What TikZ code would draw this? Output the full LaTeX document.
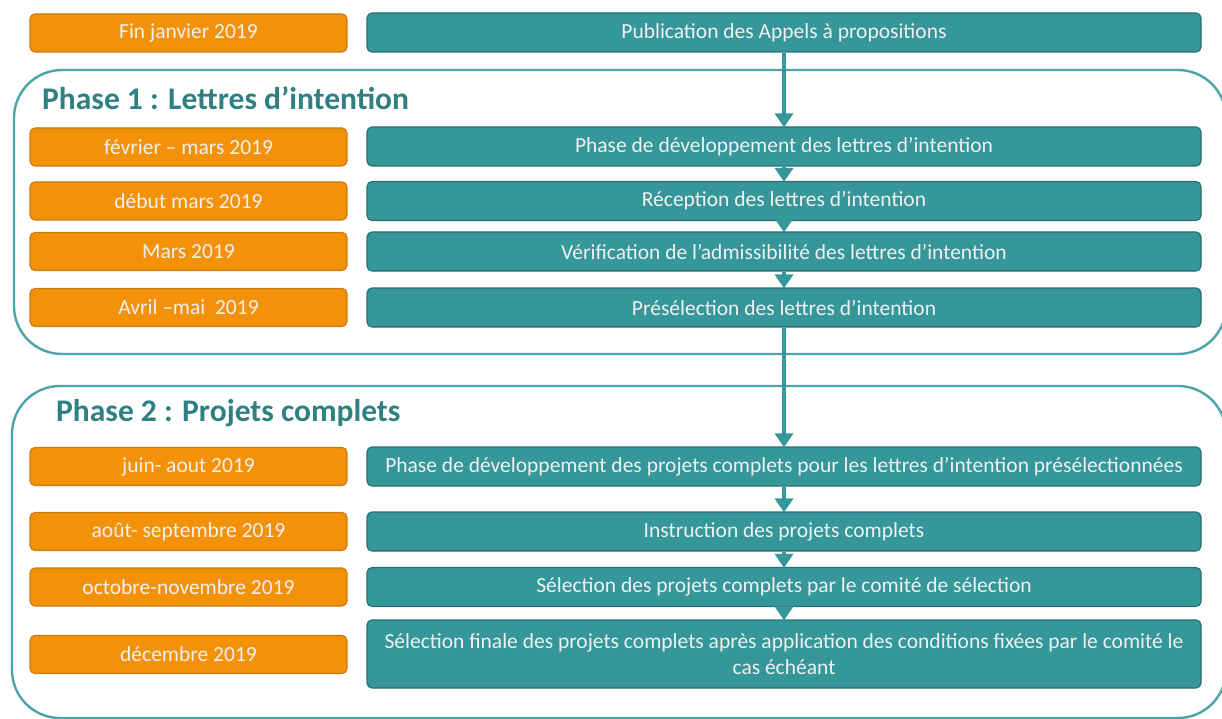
\documentclass[tikz,border=0pt]{standalone}
\usepackage{fontspec}
\setmainfont{Carlito}
\usetikzlibrary{arrows.meta}
\definecolor{datefill}{HTML}{F39208}
\definecolor{dateline}{HTML}{C97A14}
\definecolor{stepfill}{HTML}{35979A}
\definecolor{stepline}{HTML}{2A6E70}
\definecolor{phasetext}{HTML}{2F8082}
\definecolor{phaseline}{HTML}{4BA5A7}
\begin{document}
\begin{tikzpicture}
[x=1pt,y=-1pt,
datebox/.style={rectangle,rounded corners=5pt,draw=dateline,line width=1.2pt,fill=datefill,text=white!94!black,minimum width=317pt,minimum height=38pt,inner sep=2pt,font=\fontsize{21.5}{24}\selectfont},
stepbox/.style={rectangle,rounded corners=5pt,draw=stepline,line width=1.2pt,fill=stepfill,text=white!94!black,minimum width=834pt,minimum height=39pt,inner sep=2pt,align=center,font=\fontsize{21.5}{26}\selectfont},
phase/.style={draw=phaseline,line width=2.4pt,rounded corners=48pt},
title/.style={anchor=west,text=phasetext,font=\fontsize{31.5}{34}\selectfont\bfseries,inner sep=0pt},
flow/.style={-{Triangle[width=18pt,length=14pt]},draw=stepfill,line width=4pt,shorten >=-1pt}]
\useasboundingbox (0,0) rectangle (1222,719);
\clip (0,0) rectangle (1222,719);
% phase frames
\draw[phase] (14,70) rectangle (1226,354);
\draw[phase] (12,386) rectangle (1226,718);
\node[title] at (42,98) (t1) {Phase 1 : Lettres d’intention};
\node[title] at (56,413) (t2) {Phase 2 : Projets complets};
% dates
\node[datebox] at (188.5,33) (d0) {Fin janvier 2019};
\node[datebox] at (188.5,147) (d1) {février – mars 2019};
\node[datebox] at (188.5,201) (d2) {début mars 2019};
\node[datebox] at (188.5,251.5) (d3) {Mars 2019};
\node[datebox] at (188.5,307.5) (d4) {Avril –mai \ 2019};
\node[datebox] at (188.5,466.5) (d5) {juin- aout 2019};
\node[datebox] at (188.5,531.5) (d6) {août- septembre 2019};
\node[datebox] at (188.5,587) (d7) {octobre-novembre 2019};
\node[datebox] at (188.5,654.5) (d8) {décembre 2019};
% steps
\node[stepbox] at (784,32.5) (s0) {Publication des Appels à propositions};
\node[stepbox] at (784,146.5) (s1) {Phase de développement des lettres d’intention};
\node[stepbox] at (784,201) (s2) {Réception des lettres d’intention};
\node[stepbox] at (784,251.5) (s3) {Vérification de l’admissibilité des lettres d’intention};
\node[stepbox] at (784,307.5) (s4) {Présélection des lettres d’intention};
\node[stepbox] at (784,466.5) (s5) {Phase de développement des projets complets pour les lettres d’intention présélectionnées};
\node[stepbox] at (784,531.5) (s6) {Instruction des projets complets};
\node[stepbox] at (784,587) (s7) {Sélection des projets complets par le comité de sélection};
\node[stepbox,minimum height=68pt] at (784,654) (s8) {Sélection finale des projets complets après application des conditions fixées par le comité le\\cas échéant};
% arrows
\draw[flow] (s0) -- (s1);
\draw[flow] (s1) -- (s2);
\draw[flow] (s2) -- (s3);
\draw[flow] (s3) -- (s4);
\draw[flow] (s4) -- (s5);
\draw[flow] (s5) -- (s6);
\draw[flow] (s6) -- (s7);
\draw[flow] (s7) -- (s8);
\end{tikzpicture}
\end{document}
